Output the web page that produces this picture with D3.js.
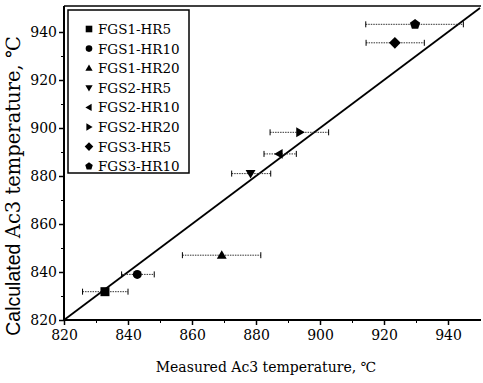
<!DOCTYPE html>
<html><head><meta charset="utf-8">
<script src="https://cdn.jsdelivr.net/npm/d3@7"></script>
<style>body{margin:0;background:#fff}svg{display:block}</style>
</head><body>
<script>
const seriesNames = ["FGS1-HR5","FGS1-HR10","FGS1-HR20","FGS2-HR5","FGS2-HR10","FGS2-HR20","FGS3-HR5","FGS3-HR10"];
const measured   = [832.8, 842.9, 869.3, 878.3, 887.2, 893.7, 923.4, 929.7];
const calculated = [831.8, 839.0, 847.0, 881.0, 889.2, 898.2, 935.5, 943.2];
const errLow     = [825.8, 838.0, 857.0, 872.4, 882.5, 884.4, 914.4, 914.3];
const errHigh    = [840.0, 848.2, 881.5, 884.6, 892.6, 902.7, 932.6, 944.8];
const markers    = ["square","circle","triangle","down","left","right","diamond","pentagon"];
const xTicks = [820,840,860,880,900,920,940];
const yTicks = [820,840,860,880,900,920,940];
const xMinor = [830,850,870,890,910,930];
const yMinor = [830,850,870,890,910,930];

const W=483,H=383;
const svg=d3.select("body").append("svg").attr("width",W).attr("height",H);
const x=d3.scaleLinear().domain([820,950]).range([64,480]);
const y=d3.scaleLinear().domain([820,950]).range([320,8]);
const serif="DejaVu Serif";
const sans="Liberation Sans";

svg.append("line").attr("x1",x(820)).attr("x2",x(820)).attr("y1",y(820)).attr("y2",6).attr("stroke","#000").attr("stroke-width",2);
svg.append("line").attr("x1",x(820)-1).attr("x2",481).attr("y1",y(820)).attr("y2",y(820)).attr("stroke","#000").attr("stroke-width",2);
svg.append("line").attr("x1",x(820)).attr("x2",481).attr("y1",6).attr("y2",6).attr("stroke","#000").attr("stroke-width",1.5);

const xAxis=svg.append("g").attr("transform",`translate(0,${y(820)})`)
  .call(d3.axisBottom(x).tickValues(xTicks).tickSize(5).tickPadding(5).tickFormat(d3.format("d")));
xAxis.attr("font-family",null).attr("font-size",null);
xAxis.select(".domain").remove();
xAxis.selectAll("line").attr("stroke-width",1.5);
xAxis.selectAll("text").style("font-family",serif).style("font-size","14px").attr("fill","#000");
const xMin=svg.append("g").attr("transform",`translate(0,${y(820)})`)
  .call(d3.axisBottom(x).tickValues(xMinor).tickSize(3).tickFormat(""));
xMin.select(".domain").remove();

const yAxis=svg.append("g").attr("transform",`translate(${x(820)},0)`)
  .call(d3.axisLeft(y).tickValues(yTicks).tickSize(5).tickPadding(2).tickFormat(d3.format("d")));
yAxis.attr("font-family",null).attr("font-size",null);
yAxis.select(".domain").remove();
yAxis.selectAll("line").attr("stroke-width",1.5);
yAxis.selectAll("text").style("font-family",serif).style("font-size","14px").attr("fill","#000");
const yMin=svg.append("g").attr("transform",`translate(${x(820)},0)`)
  .call(d3.axisLeft(y).tickValues(yMinor).tickSize(3).tickFormat(""));
yMin.select(".domain").remove();

svg.append("line").attr("x1",x(820)).attr("y1",y(820)).attr("x2",x(950)).attr("y2",y(950))
  .attr("stroke","#000").attr("stroke-width",1.8);

function sym(type,s){
  const r=s;
  switch(type){
    case "square": return `M${-r},${-r}H${r}V${r}H${-r}Z`;
    case "circle": return d3.symbol(d3.symbolCircle,Math.PI*r*r)();
    case "triangle": return `M0,${-r*1.1}L${r*1.1},${r*0.8}L${-r*1.1},${r*0.8}Z`;
    case "down": return `M0,${r*1.1}L${r*1.1},${-r*0.8}L${-r*1.1},${-r*0.8}Z`;
    case "left": return `M${-r*1.1},0L${r*0.8},${-r*1.1}L${r*0.8},${r*1.1}Z`;
    case "right": return `M${r*1.1},0L${-r*0.8},${-r*1.1}L${-r*0.8},${r*1.1}Z`;
    case "diamond": return `M0,${-r*1.3}L${r*1.3},0L0,${r*1.3}L${-r*1.3},0Z`;
    case "pentagon": {
      const pts=d3.range(5).map(i=>{const a=-Math.PI/2+i*2*Math.PI/5;return [Math.cos(a)*r*1.2,Math.sin(a)*r*1.2];});
      return "M"+pts.map(p=>p.join(",")).join("L")+"Z";
    }
  }
}

const g=svg.append("g");
seriesNames.forEach((n,i)=>{
  const yy=y(calculated[i]);
  g.append("line").attr("x1",x(errLow[i])).attr("x2",x(errHigh[i])).attr("y1",yy).attr("y2",yy)
    .attr("stroke","#333").attr("stroke-width",1).attr("stroke-dasharray","1.5,1");
  [errLow[i],errHigh[i]].forEach(v=>{
    g.append("line").attr("x1",x(v)).attr("x2",x(v)).attr("y1",yy-3).attr("y2",yy+3).attr("stroke","#000").attr("stroke-width",1);
  });
  g.append("path").attr("d",sym(markers[i],4.5)).attr("transform",`translate(${x(measured[i])},${yy})`).attr("fill","#000");
});

const lg=svg.append("g");
lg.append("rect").attr("x",68).attr("y",10).attr("width",121).attr("height",163).attr("fill","#fff").attr("stroke","#000").attr("stroke-width",1.5);
seriesNames.forEach((n,i)=>{
  const ly=29+i*19.6;
  lg.append("path").attr("d",sym(markers[i],3.3)).attr("transform",`translate(89,${ly})`).attr("fill","#000");
  lg.append("text").attr("x",98).attr("y",ly+5).text(n).style("font-family",serif).style("font-size","13.5px").attr("fill","#000");
});

svg.append("text").attr("x",266).attr("y",372).attr("text-anchor","middle").style("font-family",serif).style("font-size","14px")
  .text("Measured Ac3 temperature, ℃");
const yt=svg.append("text").attr("transform","translate(20,186) rotate(-90)").attr("text-anchor","middle").style("font-size","19.5px");
yt.append("tspan").style("font-family",sans).text("Calculated ");
yt.append("tspan").style("font-family",serif).text("Ac3 temperature, ℃");
</script>
</body></html>
